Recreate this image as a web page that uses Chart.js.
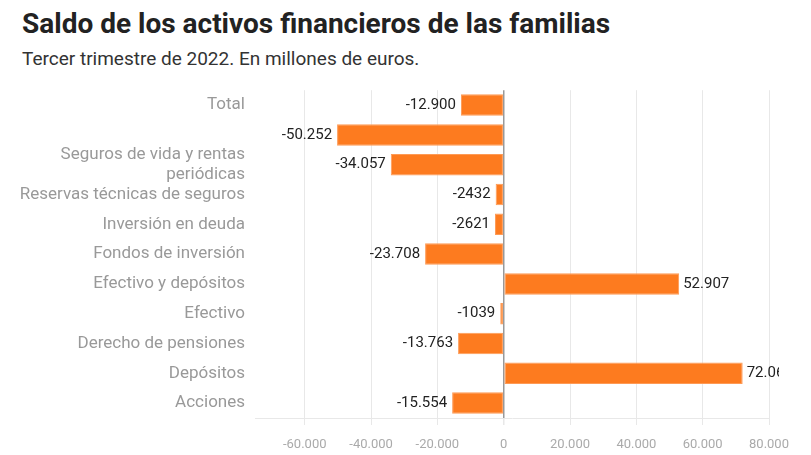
<!DOCTYPE html>
<html>
<head>
<meta charset="utf-8">
<script src="https://cdn.jsdelivr.net/npm/chart.js@4"></script>
<style>
  body { margin: 0; background: #fff; font-family: Roboto, sans-serif; }
  #wrap { position: relative; width: 811px; height: 455px; overflow: hidden; }
  #title { position: absolute; left: 22px; top: 7px; font-size: 28px; font-weight: 700; color: #222; white-space: nowrap; }
  #subtitle { position: absolute; left: 22px; top: 47px; font-size: 19px; color: #333; white-space: nowrap; }
  #box { position: absolute; left: 0; top: 70px; width: 811px; height: 385px; }
</style>
</head>
<body>
<div id="wrap">
  <div id="title">Saldo de los activos financieros de las familias</div>
  <div id="subtitle">Tercer trimestre de 2022. En millones de euros.</div>
  <div id="box"><canvas id="myChart"></canvas></div>
</div>
<script>
const categories = [
    'Total',
    '',
    ['Seguros de vida y rentas', 'periódicas'],
    'Reservas técnicas de seguros',
    'Inversión en deuda',
    'Fondos de inversión',
    'Efectivo y depósitos',
    'Efectivo',
    'Derecho de pensiones',
    'Depósitos',
    'Acciones'
];
const values = [-12900, -50252, -34057, -2432, -2621, -23708, 52907, -1039, -13763, 72063, -15554];
const xTicks = [-60000, -40000, -20000, 0, 20000, 40000, 60000, 80000];

const fmt = new Intl.NumberFormat('es-ES');

// values next to each bar, cut off at the right like the original
const barLabels = {
    id: 'barLabels',
    afterDatasetsDraw(chart) {
        const ctx = chart.ctx;
        const meta = chart.getDatasetMeta(0);
        ctx.save();
        ctx.beginPath();
        ctx.rect(0, 0, 779, chart.height);
        ctx.clip();
        ctx.font = '15px Roboto';
        ctx.fillStyle = '#222';
        ctx.textBaseline = 'middle';
        meta.data.forEach((bar, i) => {
            const v = values[i];
            if (v < 0) {
                ctx.textAlign = 'right';
                ctx.fillText(fmt.format(v), bar.x - 5, bar.y);
            } else {
                ctx.textAlign = 'left';
                ctx.fillText(fmt.format(v), bar.x + 4, bar.y);
            }
        });
        ctx.restore();
    }
};

document.addEventListener('DOMContentLoaded', () => {
    const ctx = document.getElementById('myChart').getContext('2d');
    new Chart(ctx, {
        type: 'bar',
        data: {
            labels: categories,
            datasets: [{
                data: values,
                backgroundColor: '#fd7b1f',
                borderColor: '#fe9a55',
                borderWidth: 1,
                borderSkipped: false,
                barPercentage: 0.8,
                categoryPercentage: 0.9
            }]
        },
        options: {
            indexAxis: 'y',
            responsive: true,
            maintainAspectRatio: false,
            animation: false,
            layout: { padding: { top: 0, right: 42, bottom: 0, left: 0 } },
            plugins: {
                legend: { display: false },
                tooltip: { enabled: false }
            },
            scales: {
                x: {
                    min: -75000,
                    max: 80000,
                    afterBuildTicks: (scale) => {
                        scale.ticks = xTicks.map(v => ({ value: v }));
                    },
                    afterFit: (scale) => { scale.height = 37; },
                    ticks: {
                        color: '#aaa',
                        font: { family: 'Roboto', size: 13 },
                        padding: 12,
                        maxRotation: 0,
                        callback: (v) => fmt.format(v)
                    },
                    grid: {
                        color: (c) => c.tick && c.tick.value === 0 ? '#999' : '#e8e8e8',
                        lineWidth: (c) => c.tick && c.tick.value === 0 ? 1.5 : 1,
                        tickColor: '#e8e8e8',
                        tickLength: 7
                    },
                    border: { color: '#e8e8e8' }
                },
                y: {
                    afterFit: (scale) => { scale.width = 255; },
                    ticks: {
                        color: '#999',
                        font: { family: 'Roboto', size: 17 },
                        padding: 10,
                        autoSkip: false
                    },
                    grid: { display: false, drawTicks: false },
                    border: { display: false }
                }
            }
        },
        plugins: [barLabels]
    });
});
</script>
</body>
</html>
